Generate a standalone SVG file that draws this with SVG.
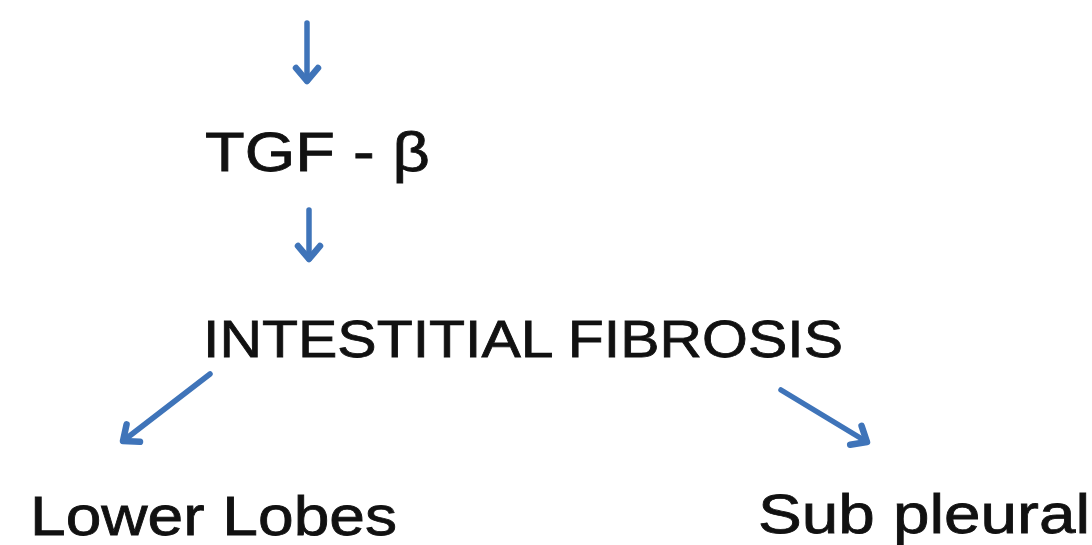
<svg xmlns="http://www.w3.org/2000/svg" width="1092" height="545" viewBox="0 0 1092 545">
<style>
.lbl{font-family:"Liberation Sans","DejaVu Sans",sans-serif;fill:#111;stroke:#111;stroke-width:0.8;}
.arr{stroke:#3f74b9;stroke-width:5.5;stroke-linecap:round;fill:none;}
</style>
<defs>
<marker id="head" viewBox="0 0 30 30" refX="22" refY="15" markerWidth="30" markerHeight="30" markerUnits="userSpaceOnUse" orient="auto">
<polyline points="9,4 22,15 9,26" fill="none" stroke="#3f74b9" stroke-width="6.5" stroke-linecap="round" stroke-linejoin="round"/>
</marker>
</defs>
<rect width="1092" height="545" fill="#fff"/>
<g id="connectors">
<line class="arr" x1="307" y1="23" x2="307" y2="81" marker-end="url(#head)"/>
<line class="arr" x1="309" y1="210" x2="309" y2="259" marker-end="url(#head)"/>
<line class="arr" x1="210" y1="374" x2="123" y2="441" marker-end="url(#head)"/>
<line class="arr" x1="781" y1="390" x2="867" y2="442" marker-end="url(#head)"/>
</g>
<g id="tgf"><text class="lbl" x="205" y="171" font-size="55" textLength="225" lengthAdjust="spacingAndGlyphs">TGF - β</text></g>
<g id="fibrosis"><text class="lbl" x="203" y="357" font-size="52" textLength="640" lengthAdjust="spacingAndGlyphs">INTESTITIAL FIBROSIS</text></g>
<g id="lower"><text class="lbl" x="30" y="535" font-size="56" textLength="367" lengthAdjust="spacingAndGlyphs">Lower Lobes</text></g>
<g id="sub"><text class="lbl" x="758" y="533" font-size="56" textLength="332" lengthAdjust="spacingAndGlyphs">Sub pleural</text></g>
</svg>
